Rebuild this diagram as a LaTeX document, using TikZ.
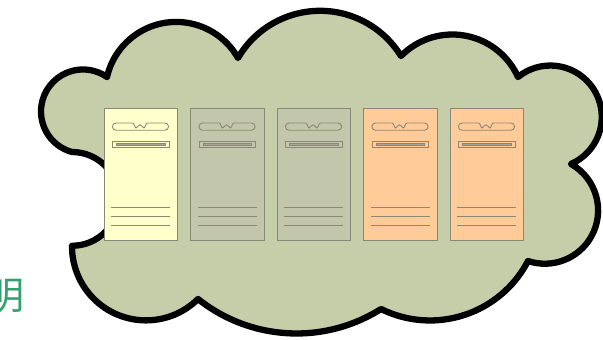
\documentclass[tikz,border=0pt]{standalone}
\usepackage{fontspec}
\usetikzlibrary{svg.path}
\newfontfamily\cjk{Noto Sans CJK SC}
\definecolor{cloudfill}{RGB}{197,205,169}
\definecolor{cardY}{RGB}{255,255,204}
\definecolor{cardG}{RGB}{194,199,171}
\definecolor{cardO}{RGB}{255,204,153}
\definecolor{edge}{RGB}{136,136,118}
\definecolor{lineg}{RGB}{140,136,118}
\definecolor{txtgreen}{RGB}{52,160,112}
\tikzset{
  cloudline/.style={draw=black, line width=6.3pt, line join=round, fill=cloudfill},
  cardbox/.style={draw=edge, line width=1pt, rectangle, minimum width=73.5pt, minimum height=132pt, inner sep=0pt},
  detail/.style={draw=lineg, line width=0.9pt},
  rule/.style={draw=lineg, line width=1.2pt}
}
\begin{document}
\begin{tikzpicture}[x=1pt, y=-1pt]
\useasboundingbox (0,0) rectangle (603,340);
\begin{scope}[yscale=-1]
\filldraw[cloudline] svg {M 107 77 A 71 71 0 0 1 238 58 A 95 95 0 0 1 401 56 A 72 72 0 0 1 518 77 A 51.4 51.4 0 1 1 571 164 A 53.3 53.3 0 0 1 528 261 A 110.5 110.5 0 0 1 381 309 A 158 158 0 0 1 198 299 A 74 74 0 0 1 72 245 A 46.8 46.8 0 1 1 72 152 A 42 42 0 1 1 107 77 Z};
\end{scope}
\foreach \i/\fc in {0/cardY, 1/cardG, 2/cardG, 3/cardO, 4/cardO} {
  \node[cardbox, fill=\fc] (card\i) at ({140.75+86.5*\i}, 174.5) {};
  \begin{scope}[shift={(card\i.north west)}]
    \draw[detail] (12.5,15) -- (29,15)
      .. controls (31,15) and (31.2,20) .. (32.6,20)
      .. controls (34,20) and (34.3,16.8) .. (36.5,16.8)
      .. controls (38.7,16.8) and (39,20) .. (40.4,20)
      .. controls (41.8,20) and (42,15) .. (44,15)
      -- (61.5,15) arc[start angle=90, end angle=-90, radius=3.6pt]
      -- (12.5,22.2) arc[start angle=270, end angle=90, radius=3.6pt] -- cycle;
    \draw[detail] (9,33.3) rectangle (65.5,39.8);
    \draw[draw=lineg, line width=0.6pt, fill=lineg!75] (13,35.6) rectangle (61.5,37.6);
    \draw[rule] (7.5,99.4) -- (66.5,99.4);
    \draw[rule] (7.5,108.7) -- (66.5,108.7);
    \draw[rule] (7.5,117.7) -- (66.5,117.7);
  \end{scope}
}
\node[text=txtgreen, font=\cjk\fontsize{38}{38}\selectfont, inner sep=0pt] (word) at (6,296) {明};
\end{tikzpicture}
\end{document}
